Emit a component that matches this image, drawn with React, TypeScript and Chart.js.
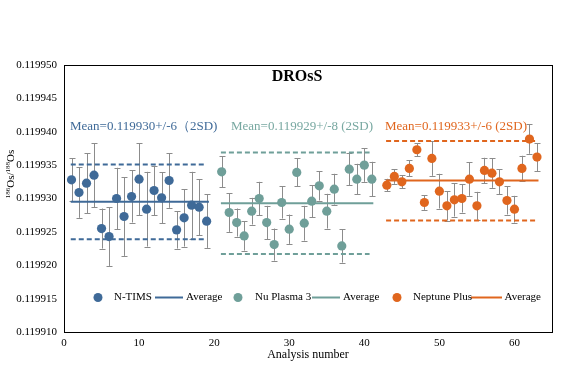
import React, { useEffect, useRef } from "react";
import { Chart, registerables } from "chart.js";
Chart.register(...registerables);

// ---- data ----
const ntimsX = [1, 2, 3, 4, 5, 6, 7, 8, 9, 10, 11, 12, 13, 14, 15, 16, 17, 18, 19];
const ntimsY = [0.1199328, 0.1199309, 0.1199323, 0.1199335, 0.1199255, 0.1199243, 0.11993, 0.1199273, 0.1199303, 0.1199329, 0.1199284, 0.1199312, 0.1199301, 0.1199327, 0.1199253, 0.1199271, 0.119929, 0.1199287, 0.1199266];
const ntimsErr = [3.2e-6, 3.8e-6, 4.5e-6, 4.8e-6, 3.0e-6, 4.4e-6, 4.6e-6, 5.9e-6, 3.9e-6, 5.4e-6, 5.6e-6, 3.7e-6, 3.8e-6, 4.1e-6, 2.8e-6, 4.3e-6, 5.0e-6, 4.2e-6, 4.0e-6];

const nuX = [21, 22, 23, 24, 25, 26, 27, 28, 29, 30, 31, 32, 33, 34, 35, 36, 37, 38, 39, 40, 41];
const nuY = [0.119934, 0.1199279, 0.1199264, 0.1199244, 0.1199281, 0.11993, 0.1199264, 0.1199231, 0.1199294, 0.1199254, 0.1199339, 0.1199263, 0.1199296, 0.1199319, 0.1199281, 0.1199314, 0.1199229, 0.1199344, 0.1199329, 0.119935, 0.1199329];
const nuErr = [2.3e-6, 2.9e-6, 2.1e-6, 2.2e-6, 2.0e-6, 2.5e-6, 2.5e-6, 2.4e-6, 2.4e-6, 2.2e-6, 2.1e-6, 2.6e-6, 2.4e-6, 2.2e-6, 2.6e-6, 2.3e-6, 2.5e-6, 2.4e-6, 2.3e-6, 2.5e-6, 2.6e-6];

const nepX = [43, 44, 45, 46, 47, 48, 49, 50, 51, 52, 53, 54, 55, 56, 57, 58, 59, 60, 61, 62, 63];
const nepY = [0.119932, 0.1199333, 0.1199325, 0.1199345, 0.1199373, 0.1199294, 0.119936, 0.1199311, 0.1199289, 0.1199298, 0.11993, 0.1199329, 0.1199289, 0.1199342, 0.1199338, 0.1199325, 0.1199297, 0.1199284, 0.1199345, 0.1199389, 0.1199362];
const nepErr = [0.95e-6, 1.1e-6, 1.0e-6, 1.2e-6, 0.95e-6, 1.1e-6, 2.6e-6, 2.6e-6, 2.2e-6, 2.5e-6, 2.1e-6, 2.5e-6, 2.1e-6, 1.9e-6, 2.2e-6, 1.9e-6, 2.1e-6, 2.0e-6, 1.9e-6, 2.2e-6, 2.1e-6];

const seriesNames = ["N-TIMS", "Nu Plasma 3", "Neptune Plus"];
const groupMean = [0.1199295, 0.1199293, 0.1199327];
const groupUpper = [0.1199351, 0.1199369, 0.1199386];
const groupLower = [0.1199239, 0.1199217, 0.1199267];
const meanLineStart = [0.9, 20.9, 42.9];
const meanLineEnd = [19.3, 41.2, 63.2];
const bandLineEnd = [18.7, 40.7, 62.8];
const meanLabels = ["Mean=0.119930+/-6（2SD)", "Mean=0.119929+/-8 (2SD)", "Mean=0.119933+/-6 (2SD)"];

const xTicks = [0, 10, 20, 30, 40, 50, 60];
const yTicks = [0.11991, 0.119915, 0.11992, 0.119925, 0.11993, 0.119935, 0.11994, 0.119945, 0.11995];

// ---- style ----
const COLORS = ["#3F6A98", "#6F9F99", "#E0661E"];
const TEXT_COLORS = ["#3F6A98", "#78A8A1", "#E0661E"];
const SERIF = "'Times New Roman', 'Liberation Serif', serif";

export default function App() {
  const ref = useRef<HTMLCanvasElement>(null);

  useEffect(() => {
    const canvas = ref.current!;
    const groups = [
      { xs: ntimsX, ys: ntimsY, err: ntimsErr },
      { xs: nuX, ys: nuY, err: nuErr },
      { xs: nepX, ys: nepY, err: nepErr },
    ];

    const datasets: any[] = [];
    groups.forEach((g, i) => {
      datasets.push({
        type: "scatter",
        label: seriesNames[i],
        data: g.xs.map((x, k) => ({ x, y: g.ys[k] })),
        backgroundColor: COLORS[i],
        borderColor: COLORS[i],
        borderWidth: 0,
        pointRadius: 4.6,
      });
    });
    groups.forEach((g, i) => {
      datasets.push({
        type: "line",
        label: "Average",
        data: [
          { x: meanLineStart[i], y: groupMean[i] },
          { x: meanLineEnd[i], y: groupMean[i] },
        ],
        borderColor: COLORS[i],
        borderWidth: 2,
        pointRadius: 0,
        showLine: true,
      });
      [groupUpper[i], groupLower[i]].forEach((v) => {
        datasets.push({
          type: "line",
          label: "2SD",
          data: [
            { x: meanLineStart[i], y: v },
            { x: bandLineEnd[i], y: v },
          ],
          borderColor: COLORS[i],
          borderWidth: 2,
          borderDash: [5, 3],
          pointRadius: 0,
          showLine: true,
        });
      });
    });

    const errorBars = {
      id: "errorBars",
      beforeDatasetsDraw(chart: any) {
        const { ctx, scales } = chart;
        const xs = scales.x, ys = scales.y;
        ctx.save();
        ctx.strokeStyle = "#8C8C8C";
        ctx.lineWidth = 1;
        groups.forEach((g) => {
          g.xs.forEach((xv, k) => {
            const px = Math.round(xs.getPixelForValue(xv)) + 0.5;
            const top = ys.getPixelForValue(g.ys[k] + g.err[k]);
            const bot = ys.getPixelForValue(g.ys[k] - g.err[k]);
            ctx.beginPath();
            ctx.moveTo(px, top);
            ctx.lineTo(px, bot);
            ctx.moveTo(px - 3, Math.round(top) + 0.5);
            ctx.lineTo(px + 3, Math.round(top) + 0.5);
            ctx.moveTo(px - 3, Math.round(bot) + 0.5);
            ctx.lineTo(px + 3, Math.round(bot) + 0.5);
            ctx.stroke();
          });
        });
        ctx.restore();
      },
    };

    const decor = {
      id: "decor",
      afterDraw(chart: any) {
        const { ctx, chartArea: a, scales } = chart;
        ctx.save();
        // frame
        ctx.strokeStyle = "#000";
        ctx.lineWidth = 1;
        ctx.strokeRect(Math.round(a.left) + 0.5, Math.round(a.top) + 0.5, Math.round(a.right - a.left), Math.round(a.bottom - a.top));

        // title
        ctx.fillStyle = "#000";
        ctx.font = `bold 16px ${SERIF}`;
        ctx.textAlign = "center";
        ctx.textBaseline = "middle";
        ctx.fillText("DROsS", 297, 77);

        // mean annotations
        ctx.font = `13px ${SERIF}`;
        ctx.textAlign = "left";
        const annX = [70, 231, 385];
        meanLabels.forEach((t, i) => {
          ctx.fillStyle = TEXT_COLORS[i];
          ctx.fillText(t, annX[i], 127);
        });

        // legend
        const ly = 297.5;
        ctx.font = `11px ${SERIF}`;
        const leg = [
          { dot: 98, text: 114, l1: 155, l2: 183, avg: 186 },
          { dot: 238, text: 255, l1: 312, l2: 340, avg: 343 },
          { dot: 397, text: 413, l1: 471, l2: 502, avg: 504.5 },
        ];
        leg.forEach((p, i) => {
          ctx.fillStyle = COLORS[i];
          ctx.beginPath();
          ctx.arc(p.dot, ly, 4.5, 0, Math.PI * 2);
          ctx.fill();
          ctx.strokeStyle = COLORS[i];
          ctx.lineWidth = 2;
          ctx.beginPath();
          ctx.moveTo(p.l1, ly);
          ctx.lineTo(p.l2, ly);
          ctx.stroke();
          ctx.fillStyle = "#000";
          ctx.fillText(seriesNames[i], p.text, ly);
          ctx.fillText("Average", p.avg, ly);
        });

        // x axis title
        ctx.font = `12px ${SERIF}`;
        ctx.textAlign = "center";
        ctx.fillText("Analysis number", (a.left + a.right) / 2, 355);

        // y axis title (rotated, with superscripts)
        ctx.translate(10, 174);
        ctx.rotate(-Math.PI / 2);
        const parts = [
          { t: "186", sup: true },
          { t: "Os/", sup: false },
          { t: "188", sup: true },
          { t: "Os", sup: false },
        ];
        const fontFor = (sup: boolean) => (sup ? `7px ${SERIF}` : `11px ${SERIF}`);
        let total = 0;
        parts.forEach((p) => {
          ctx.font = fontFor(p.sup);
          total += ctx.measureText(p.t).width;
        });
        let cx = -total / 2;
        ctx.textAlign = "left";
        ctx.textBaseline = "alphabetic";
        ctx.fillStyle = "#000";
        parts.forEach((p) => {
          ctx.font = fontFor(p.sup);
          ctx.fillText(p.t, cx, p.sup ? 0 : 4);
          cx += ctx.measureText(p.t).width;
        });
        ctx.restore();
      },
    };

    const chart = new Chart(canvas, {
      type: "scatter",
      data: { datasets },
      options: {
        responsive: false,
        animation: false,
        devicePixelRatio: 1,
        layout: { padding: { left: 0, right: 29, top: 65, bottom: 0 } },
        plugins: {
          legend: { display: false },
          tooltip: { enabled: false },
          title: { display: false },
        },
        scales: {
          x: {
            type: "linear",
            min: 0,
            max: 65,
            grid: { display: false, drawTicks: false },
            border: { display: false },
            ticks: { font: { family: SERIF, size: 11 }, color: "#000", padding: 5, maxRotation: 0 },
            afterBuildTicks: (s: any) => {
              s.ticks = xTicks.map((v) => ({ value: v }));
            },
            afterFit: (s: any) => {
              s.height = 34;
            },
          },
          y: {
            type: "linear",
            min: yTicks[0],
            max: yTicks[yTicks.length - 1],
            grid: { display: false, drawTicks: false },
            border: { display: false },
            ticks: {
              font: { family: SERIF, size: 11 },
              color: "#000",
              padding: 7,
              callback: (v: any) => Number(v).toFixed(6),
            },
            afterBuildTicks: (s: any) => {
              s.ticks = yTicks.map((v) => ({ value: v }));
            },
            afterFit: (s: any) => {
              s.width = 64;
            },
          },
        },
      } as any,
      plugins: [errorBars, decor],
    });
    return () => chart.destroy();
  }, []);

  return (
    <div style={{ position: "absolute", left: 0, top: 0, width: 581, height: 366, background: "#fff" }}>
      <canvas ref={ref} width={581} height={366} style={{ display: "block" }} />
    </div>
  );
}
